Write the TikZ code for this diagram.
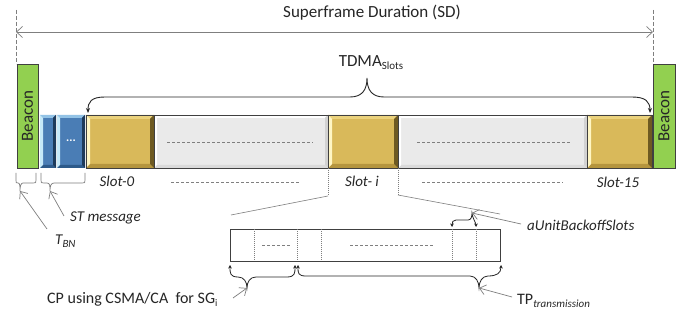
\documentclass[tikz,border=0pt]{standalone}
\usepackage{fontspec}
\setmainfont{Carlito}
\usetikzlibrary{arrows.meta}

% colour sets for the bevelled boxes
\definecolor{goldface}{HTML}{D9B95A}
\definecolor{goldtop}{HTML}{EBD27C}
\definecolor{goldbot}{HTML}{B5953E}
\definecolor{goldleft}{HTML}{FFF6C4}
\definecolor{goldright}{HTML}{6E5A22}
\definecolor{blueface}{HTML}{4A7DB5}
\definecolor{bluetop}{HTML}{93C3E6}
\definecolor{bluebot}{HTML}{2D5A8A}
\definecolor{blueleft}{HTML}{C6E9F8}
\definecolor{blueright}{HTML}{1E3A5A}
\definecolor{greyface}{HTML}{EAEAEA}
\definecolor{greytop}{HTML}{FFFFFF}
\definecolor{greybot}{HTML}{DADADA}
\definecolor{greyleft}{HTML}{FFFFFF}
\definecolor{greyright}{HTML}{D2D2D2}
\definecolor{beacongreen}{HTML}{92D050}
\definecolor{ink}{HTML}{262626}
\definecolor{guide}{HTML}{7F7F7F}
\definecolor{frame}{HTML}{404040}

% bevelled rectangle: x1 y1 x2 y2 bevel colourset
\newcommand\bevbox[6]{%
  \fill[#6face] (#1,#2) rectangle (#3,#4);
  \fill[#6top] (#1,#2) -- (#3,#2) -- ({#3-#5},{#2+#5}) -- ({#1+#5},{#2+#5}) -- cycle;
  \fill[#6bot] (#1,#4) -- (#3,#4) -- ({#3-#5},{#4-#5}) -- ({#1+#5},{#4-#5}) -- cycle;
  \fill[#6left] (#1,#2) -- ({#1+#5},{#2+#5}) -- ({#1+#5},{#4-#5}) -- (#1,#4) -- cycle;
  \fill[#6right] (#3,#2) -- ({#3-#5},{#2+#5}) -- ({#3-#5},{#4-#5}) -- (#3,#4) -- cycle;
}

\begin{document}
\begin{tikzpicture}[x=1pt,y=-1pt,
  big/.style={font=\fontsize{17}{20}\selectfont, text=ink, inner sep=0pt},
  lbl/.style={font=\fontsize{15}{18}\selectfont, text=ink, inner sep=0pt},
  dimline/.style={guide, line width=0.7pt,
    {Straight Barb[length=6pt,width=11pt]}-{Straight Barb[length=6pt,width=11pt]}},
  pointer/.style={guide, line width=0.7pt, -{Straight Barb[length=6pt,width=10pt]}},
  bracebig/.style={ink, line width=0.9pt,
    {Stealth[length=5pt,width=4pt]}-{Stealth[length=5pt,width=4pt]}},
  bracesmall/.style={ink, line width=0.8pt,
    {Stealth[length=3.5pt,width=3.5pt]}-{Stealth[length=3.5pt,width=3.5pt]}},
  openbrace/.style={guide, line width=0.7pt},
  fineline/.style={guide, line width=0.6pt},
  dotline/.style={guide, line width=0.6pt, dash pattern=on 1pt off 1pt},
  dashline/.style={guide, line width=0.6pt, dash pattern=on 3pt off 2pt},
  edgeline/.style={guide, line width=0.6pt, dash pattern=on 4pt off 2pt},
]
\useasboundingbox (0,0) rectangle (694,320);
\fill[white] (0,0) rectangle (694,320);

% ---- superframe duration ----
\draw[edgeline] (16,10) -- (16,64);
\draw[edgeline] (653,10) -- (653,64);
\coordinate (sdL) at (16,32);
\coordinate (sdR) at (653,32);
\draw[dimline] (sdL) -- (sdR);
\node[big] (sd) at (372,13) {Superframe Duration (SD)};

% ---- beacons ----
\filldraw[fill=beacongreen, draw=frame, line width=0.7pt] (17,64) rectangle (38,168);
\filldraw[fill=beacongreen, draw=frame, line width=0.7pt] (653,64) rectangle (675,168);
\node[big, rotate=90] (bcnL) at (27.5,116) {Beacon};
\node[big, rotate=90] (bcnR) at (664,116) {Beacon};

% ---- ST message boxes ----
\bevbox{40}{115}{56}{168}{3}{blue}
\bevbox{57}{115}{85}{168}{3}{blue}
\node[font=\fontsize{12}{12}\selectfont\bfseries, text=white, inner sep=0pt] (dots) at (71,141) {...};

% ---- slots ----
\bevbox{86}{115}{154}{168}{4}{gold}
\bevbox{154}{115}{328}{168}{3}{grey}
\bevbox{328}{115}{398}{168}{4}{gold}
\bevbox{398}{115}{587}{168}{3}{grey}
\bevbox{587}{115}{652}{168}{4}{gold}
\draw[frame, line width=0.8pt] (86,115) rectangle (652,168);
\foreach \xx in {154,328,398,587} \draw[frame, line width=0.6pt] (\xx,115) -- (\xx,168);
\draw[dashline] (167,142) -- (313,142);
\draw[dashline] (417,142) -- (570,142);
\draw[dashline] (171,182) -- (300,182);
\draw[dashline] (422,182) -- (563,182);

\node[lbl, font=\fontsize{15}{18}\selectfont\itshape] (s0) at (117,181) {Slot-0};
\node[lbl, font=\fontsize{15}{18}\selectfont\itshape] (si) at (362,181) {Slot- i};
\node[lbl, font=\fontsize{15}{18}\selectfont\itshape] (s15) at (618,182) {Slot-15};

% ---- TDMA brace ----
\node[big] (tdma) at (371,63) {TDMA\raisebox{-0.35ex}{\fontsize{11}{12}\selectfont Slots}};
\coordinate (tdmaL) at (88,113);
\coordinate (tdmaTip) at (367,78);
\coordinate (tdmaR) at (650,113);
\draw[bracebig] (tdmaL) .. controls +(0,-11) and +(-14,0) .. (105,97) -- (350,97)
  .. controls +(12,0) and +(0,12) .. (tdmaTip)
  .. controls +(0,12) and +(-12,0) .. (384,97) -- (632,97)
  .. controls +(14,0) and +(0,-11) .. (tdmaR);

% ---- braces under beacon and ST message ----
\coordinate (tipBN) at (20,191);
\coordinate (tipST) at (50,191);
\draw[openbrace] (16,173) -- (16,180) .. controls (16,183) .. (18,183)
  .. controls (20,183) and (20,186) .. (tipBN)
  .. controls (20,186) and (21,183) .. (23,183) -- (33,183)
  .. controls (36,183) .. (36,180) -- (36,173);
\draw[openbrace] (41,173) -- (41,180) .. controls (41,183) .. (44,183) -- (47,183)
  .. controls (50,183) and (50,186) .. (tipST)
  .. controls (50,186) and (51,183) .. (54,183) -- (82,183)
  .. controls (85,183) .. (85,180) -- (85,173);

\node[lbl, font=\fontsize{15}{18}\selectfont\itshape, anchor=west] (stmsg) at (70,218) {ST message};
\node[lbl, anchor=west] (tbn) at (55,241) {\itshape T\raisebox{-0.4ex}{\fontsize{11}{12}\selectfont\itshape BN}};
\coordinate (stFrom) at (64,216);
\coordinate (bnFrom) at (47,229);
\draw[pointer] (stFrom) -- (tipST);
\draw[pointer] (bnFrom) -- (tipBN);

% ---- expansion of slot i ----
\coordinate (siL) at (328,168);
\coordinate (siR) at (398,168);
\coordinate (kneeL) at (328,196);
\coordinate (kneeR) at (398,195);
\coordinate (fanL) at (231,215);
\coordinate (fanR) at (500,214);
\draw[dotline] (siL) -- (kneeL);
\draw[dotline] (siR) -- (kneeR);
\draw[fineline] (kneeL) -- (fanL);
\draw[fineline] (kneeR) -- (fanR);

\draw[frame, line width=0.8pt] (230,229) rectangle (500,261);
\foreach \xx in {254,297,321,452,476} \draw[dotline] (\xx,229) -- (\xx,261);
\draw[dashline] (262,245) -- (291,245);
\draw[dashline] (350,245) -- (434,245);

% ---- backoff brace ----
\coordinate (ubL) at (452,227);
\coordinate (ubTip) at (472,213);
\coordinate (ubR) at (476,227);
\draw[bracesmall] (ubL) .. controls +(0,-5) and +(-3,0) .. (456,220) -- (468,220)
  .. controls +(3,0) and +(0,4) .. (ubTip)
  .. controls +(0,4) and +(0,-4) .. (ubR);
\node[lbl, font=\fontsize{15}{18}\selectfont\itshape, anchor=west] (aub) at (527,225) {aUnitBackoffSlots};
\coordinate (aubFrom) at (521,224);
\draw[pointer] (aubFrom) -- (ubTip);

% ---- CP and TP braces ----
\coordinate (cpL) at (230,265);
\coordinate (cpTip) at (247,288);
\coordinate (cpR) at (295,265);
\draw[bracesmall] (cpL) .. controls +(0,8) and +(-8,0) .. (238,277)
  .. controls +(6,0) and +(0,-6) .. (cpTip)
  .. controls +(0,-6) and +(-6,0) .. (256,277) -- (287,277)
  .. controls +(8,0) and +(0,8) .. (cpR);
\coordinate (tpL) at (298,265);
\coordinate (tpTip) at (479,288);
\coordinate (tpR) at (501,265);
\draw[bracesmall] (tpL) .. controls +(0,8) and +(-8,0) .. (306,276) -- (470,276)
  .. controls +(6,0) and +(0,-6) .. (tpTip)
  .. controls +(0,-6) and +(-6,0) .. (488,276)
  .. controls +(9,0) and +(0,8) .. (tpR);

\node[lbl, font=\fontsize{16}{18}\selectfont, anchor=west] (cp) at (47,299)
  {CP using CSMA/CA \ for SG\raisebox{-0.4ex}{\fontsize{10}{12}\selectfont i}};
\node[lbl, font=\fontsize{16}{18}\selectfont, anchor=west] (tp) at (517,301)
  {TP\raisebox{-0.4ex}{\fontsize{11}{12}\selectfont\itshape transmission}};
\coordinate (cpFrom) at (233,298);
\coordinate (tpFrom) at (512,297);
\draw[pointer] (cpFrom) -- (cpTip);
\draw[pointer] (tpFrom) -- (tpTip);
\end{tikzpicture}
\end{document}
